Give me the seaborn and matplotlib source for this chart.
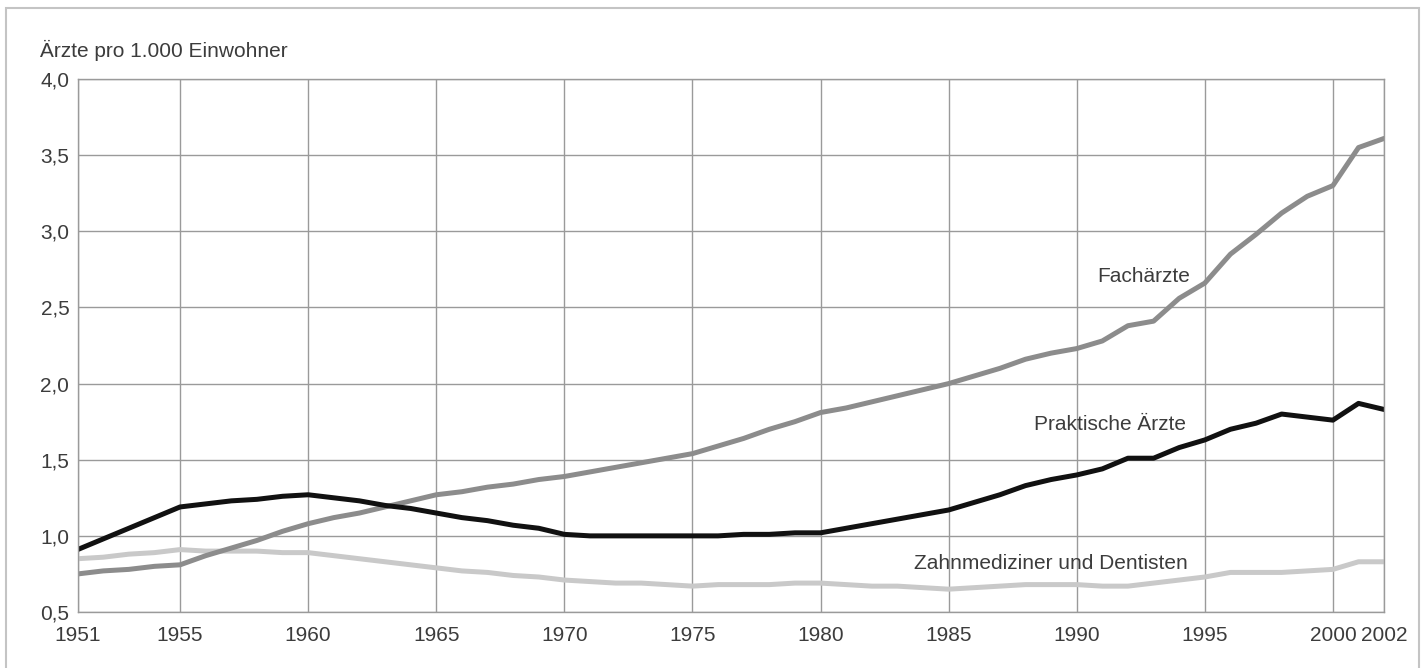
import matplotlib
matplotlib.use("Agg")
import matplotlib.pyplot as plt
import matplotlib.ticker as mticker
from matplotlib.patches import Rectangle
import pandas as pd
import seaborn as sns

years = list(range(1951, 2003))

praktische = [0.91, 0.98, 1.05, 1.12, 1.19, 1.21, 1.23, 1.24, 1.26, 1.27,
              1.25, 1.23, 1.20, 1.18, 1.15, 1.12, 1.10, 1.07, 1.05, 1.01,
              1.00, 1.00, 1.00, 1.00, 1.00, 1.00, 1.01, 1.01, 1.02, 1.02,
              1.05, 1.08, 1.11, 1.14, 1.17, 1.22, 1.27, 1.33, 1.37, 1.40,
              1.44, 1.51, 1.51, 1.58, 1.63, 1.70, 1.74, 1.80, 1.78, 1.76,
              1.87, 1.83]

fachaerzte = [0.75, 0.77, 0.78, 0.80, 0.81, 0.87, 0.92, 0.97, 1.03, 1.08,
              1.12, 1.15, 1.19, 1.23, 1.27, 1.29, 1.32, 1.34, 1.37, 1.39,
              1.42, 1.45, 1.48, 1.51, 1.54, 1.59, 1.64, 1.70, 1.75, 1.81,
              1.84, 1.88, 1.92, 1.96, 2.00, 2.05, 2.10, 2.16, 2.20, 2.23,
              2.28, 2.38, 2.41, 2.56, 2.66, 2.85, 2.98, 3.12, 3.23, 3.30,
              3.55, 3.61]

zahn = [0.85, 0.86, 0.88, 0.89, 0.91, 0.90, 0.90, 0.90, 0.89, 0.89,
        0.87, 0.85, 0.83, 0.81, 0.79, 0.77, 0.76, 0.74, 0.73, 0.71,
        0.70, 0.69, 0.69, 0.68, 0.67, 0.68, 0.68, 0.68, 0.69, 0.69,
        0.68, 0.67, 0.67, 0.66, 0.65, 0.66, 0.67, 0.68, 0.68, 0.68,
        0.67, 0.67, 0.69, 0.71, 0.73, 0.76, 0.76, 0.76, 0.77, 0.78,
        0.83, 0.83]

xtick_years = [1951, 1955, 1960, 1965, 1970, 1975, 1980, 1985, 1990, 1995, 2000, 2002]
ytick_vals = [0.5, 1.0, 1.5, 2.0, 2.5, 3.0, 3.5, 4.0]

sns.set_style("white")
plt.rcParams['font.family'] = ['Liberation Sans', 'DejaVu Sans']

text_col = '#3c3c3c'
grid_col = '#9a9a9a'
fs = 15

fig = plt.figure(figsize=(14.24, 6.68), dpi=100)
ax = fig.add_axes([0.0545, 0.0838, 0.9175, 0.7979])

df = pd.DataFrame({'Jahr': years, 'Zahn': zahn, 'Fach': fachaerzte, 'Prakt': praktische})

sns.lineplot(data=df, x='Jahr', y='Zahn', ax=ax, color='#c9c9c9', linewidth=3.6)
sns.lineplot(data=df, x='Jahr', y='Fach', ax=ax, color='#8c8c8c', linewidth=3.6)
sns.lineplot(data=df, x='Jahr', y='Prakt', ax=ax, color='#111111', linewidth=3.6)

ax.set_xlim(1951, 2002)
ax.set_ylim(0.5, 4.0)
ax.set_xlabel('')
ax.set_ylabel('')

ax.xaxis.set_major_locator(mticker.FixedLocator(xtick_years))
ax.xaxis.set_minor_locator(mticker.FixedLocator(years))
ax.set_xticklabels([str(y) for y in xtick_years])
ax.yaxis.set_major_locator(mticker.FixedLocator(ytick_vals))
ax.set_yticklabels([f"{v:.1f}".replace('.', ',') for v in ytick_vals])

ax.tick_params(axis='x', which='major', length=0, pad=10, labelsize=fs, labelcolor=text_col)
ax.tick_params(axis='x', which='minor', direction='in', length=9.5, width=1, color=grid_col)
ax.tick_params(axis='y', which='major', length=0, pad=6, labelsize=fs, labelcolor=text_col)

ax.grid(True, which='major', color=grid_col, linewidth=1)
ax.set_axisbelow(True)
for s in ax.spines.values():
    s.set_color(grid_col)
    s.set_linewidth(1)
    s.set_visible(True)

ax.text(1992.6, 2.70, 'Fachärzte', ha='center', va='center', fontsize=fs, color=text_col)
ax.text(1991.3, 1.73, 'Praktische Ärzte', ha='center', va='center', fontsize=fs, color=text_col)
ax.text(1989.0, 0.82, 'Zahnmediziner und Dentisten', ha='center', va='center', fontsize=fs, color=text_col)

fig.text(40 / 1424, 1 - 50 / 668, 'Ärzte pro 1.000 Einwohner', ha='left', va='center',
         fontsize=fs, color=text_col)

# outer frame of the figure
fig.patches.append(Rectangle((6 / 1424, -0.05), 1413 / 1424, 1.05 - 8 / 668,
                             transform=fig.transFigure, fill=False,
                             edgecolor='#c4c4c4', linewidth=1.5))

fig.savefig('out.png', dpi=100)
